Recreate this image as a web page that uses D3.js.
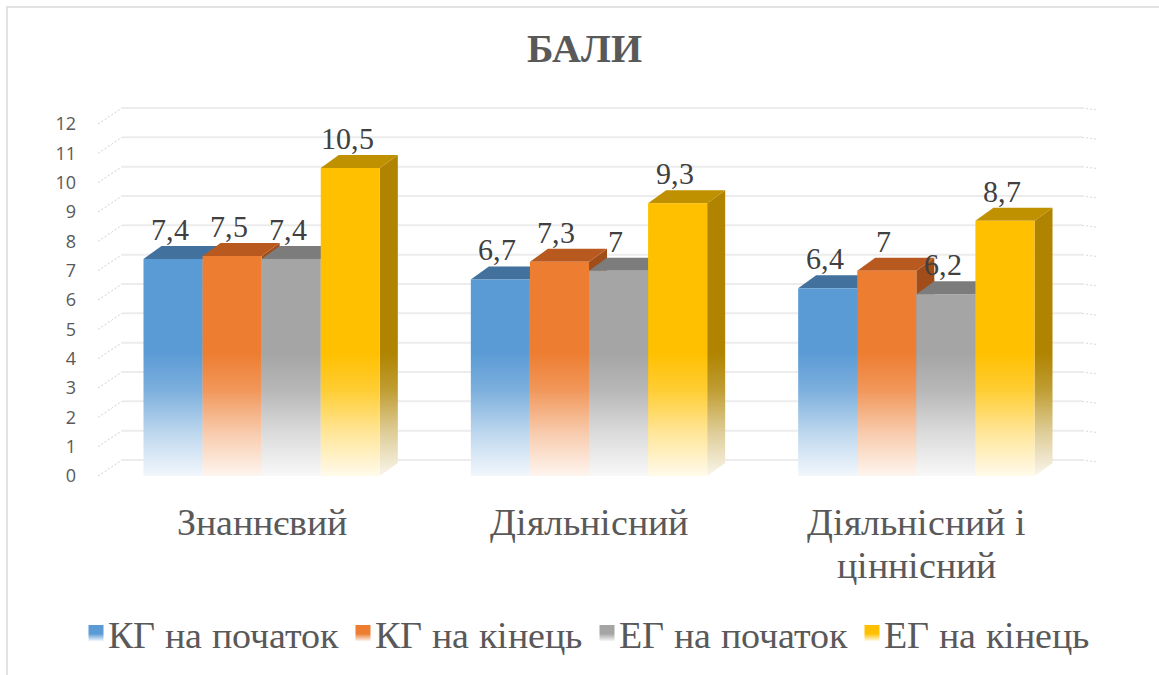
<!DOCTYPE html>
<html><head><meta charset="utf-8">
<script src="https://cdn.jsdelivr.net/npm/d3@7"></script>
<style>
@font-face { font-family: "RefSerif"; src: local("Liberation Serif"), local("LiberationSerif"), local("Times New Roman"); font-weight: normal; }
@font-face { font-family: "RefSerif"; src: local("Liberation Serif Bold"), local("LiberationSerif-Bold"); font-weight: bold; }
</style>
</head><body style="margin:0">
<svg id="chart" width="1159" height="675" style="display:block"></svg>
<script>
const title = "БАЛИ";
const categories = [["Знаннєвий"], ["Діяльнісний"], ["Діяльнісний і", "ціннісний"]];
const seriesNames = ["КГ на початок", "КГ на кінець", "ЕГ на початок", "ЕГ на кінець"];
const kgStart = [7.4, 6.7, 6.4];
const kgEnd = [7.5, 7.3, 7];
const egStart = [7.4, 7, 6.2];
const egEnd = [10.5, 9.3, 8.7];
const labels = [["7,4","6,7","6,4"],["7,5","7,3","7"],["7,4","7","6,2"],["10,5","9,3","8,7"]];
const yTicks = [0,1,2,3,4,5,6,7,8,9,10,11,12];
const seriesValues = [kgStart, kgEnd, egStart, egEnd];
const colors = ["#5b9bd5", "#ed7d31", "#a5a5a5", "#ffc000"];
const topColors = ["#41719c", "#b85a20", "#7c7c7c", "#bf9000"];
const sideColors = ["#3a6590", "#a04d1a", "#6e6e6e", "#b08400"];
const SERIF = '"RefSerif", "Liberation Serif", "Times New Roman", serif';
const SANS = '"Open Sans", sans-serif';

const svg = d3.select("#chart");
const defs = svg.append("defs");

svg.append("rect").attr("x",7).attr("y",7).attr("width",1200).attr("height",700)
  .attr("fill","none").attr("stroke","#d9d9d9").attr("stroke-width",1.5);

const x0 = d3.scaleBand().domain(d3.range(categories.length)).range([98,1080]).padding(0);
const x1 = d3.scaleBand().domain(d3.range(seriesNames.length)).range([0,x0.bandwidth()]).paddingInner(0).paddingOuter(0.77);
const y = d3.scaleLinear().domain([0,12]).range([476,124]);

const gdx = 24, gdy = -16;
const bdx = 18, bdy = -13;

const grid = svg.append("g");
yTicks.forEach(t => {
  const yy = y(t);
  grid.append("line").attr("x1",98).attr("y1",yy).attr("x2",98+gdx).attr("y2",yy+gdy)
    .attr("stroke","#d0d0d0").attr("stroke-width",1).attr("stroke-dasharray","2,2");
  grid.append("line").attr("x1",98+gdx).attr("y1",yy+gdy).attr("x2",1082).attr("y2",yy+gdy)
    .attr("stroke","#ececec").attr("stroke-width",2);
  grid.append("line").attr("x1",1082).attr("y1",yy+gdy).attr("x2",1098).attr("y2",yy+gdy+2)
    .attr("stroke","#d8d8d8").attr("stroke-width",1).attr("stroke-dasharray","2,2");
});

svg.append("g").selectAll("text").data(yTicks).join("text")
  .attr("x",76).attr("y",d=>y(d)).attr("dy","0.36em").attr("text-anchor","end")
  .style("font-family",SANS).style("font-size","18px").attr("fill","#595959")
  .text(d=>d);

function mix(c, t){ return d3.interpolateRgb(c, "#ffffff")(t); }
colors.forEach((c,i)=>{
  const g = defs.append("linearGradient").attr("id","gf"+i).attr("gradientUnits","userSpaceOnUse")
    .attr("x1",0).attr("x2",0).attr("y1",y(0)).attr("y2",y(4.2));
  g.append("stop").attr("offset",0).attr("stop-color",mix(c,0.92));
  g.append("stop").attr("offset",0.35).attr("stop-color",mix(c,0.6));
  g.append("stop").attr("offset",0.7).attr("stop-color",mix(c,0.2));
  g.append("stop").attr("offset",1).attr("stop-color",c);
  const s = defs.append("linearGradient").attr("id","gs"+i).attr("gradientUnits","userSpaceOnUse")
    .attr("x1",0).attr("x2",0).attr("y1",y(0)).attr("y2",y(4.2));
  s.append("stop").attr("offset",0).attr("stop-color",mix(sideColors[i],0.92));
  s.append("stop").attr("offset",0.35).attr("stop-color",mix(sideColors[i],0.6));
  s.append("stop").attr("offset",0.7).attr("stop-color",mix(sideColors[i],0.2));
  s.append("stop").attr("offset",1).attr("stop-color",sideColors[i]);
  const l = defs.append("linearGradient").attr("id","gl"+i).attr("x1",0).attr("x2",0).attr("y1",0).attr("y2",1);
  l.append("stop").attr("offset",0).attr("stop-color",c);
  l.append("stop").attr("offset",0.55).attr("stop-color",c);
  l.append("stop").attr("offset",1).attr("stop-color",mix(c,0.9));
});

const bars = svg.append("g");
categories.forEach((cat,ci)=>{
  seriesValues.forEach((vals,si)=>{
    const v = vals[ci];
    const xl = x0(ci) + x1(si), xr = xl + x1.bandwidth();
    const yt = y(v), yb = y(0);
    const g = bars.append("g");
    g.append("path").attr("d",`M${xr},${yt}L${xr+bdx},${yt+bdy}L${xr+bdx},${yb+bdy}L${xr},${yb}Z`)
      .attr("fill",`url(#gs${si})`);
    g.append("path").attr("d",`M${xl},${yt}L${xl+bdx},${yt+bdy}L${xr+bdx},${yt+bdy}L${xr},${yt}Z`)
      .attr("fill",topColors[si]);
    g.append("rect").attr("x",xl).attr("y",yt).attr("width",xr-xl).attr("height",yb-yt)
      .attr("fill",`url(#gf${si})`);
  });
});

const dl = svg.append("g");
categories.forEach((cat,ci)=>{
  seriesValues.forEach((vals,si)=>{
    const v = vals[ci];
    const xc = x0(ci) + x1(si) + x1.bandwidth()/2 - 3;
    dl.append("text").attr("x",xc).attr("y",y(v)+bdy-6).attr("text-anchor","middle")
      .style("font-family",SERIF).style("font-size","30px").attr("fill","#404040")
      .text(labels[si][ci]);
  });
});

categories.forEach((lines,ci)=>{
  const cx = x0(ci)+x0.bandwidth()/2;
  lines.forEach((ln,li)=>{
    svg.append("text").attr("x",cx).attr("y",535 + li*43).attr("text-anchor","middle")
      .style("font-family",SERIF).style("font-size","38px").attr("fill","#595959").text(ln);
  });
});

svg.append("text").attr("x",584).attr("y",62).attr("text-anchor","middle")
  .style("font-family",SERIF).style("font-weight","bold").style("font-size","40px").attr("fill","#595959").text(title);

const leg = svg.append("g");
let lx = 0;
seriesNames.forEach((n,i)=>{
  const g = leg.append("g");
  g.append("rect").attr("x",lx).attr("y",-11).attr("width",15).attr("height",16).attr("fill",`url(#gl${i})`);
  const t = g.append("text").attr("x",lx+19).attr("y",12)
    .style("font-family",SERIF).style("font-size","38px").attr("fill","#595959").text(n);
  lx += 19 + t.node().getComputedTextLength() + 18;
});
const total = lx - 18;
leg.attr("transform",`translate(${588.5 - total/2},636)`);
</script>
</body></html>
